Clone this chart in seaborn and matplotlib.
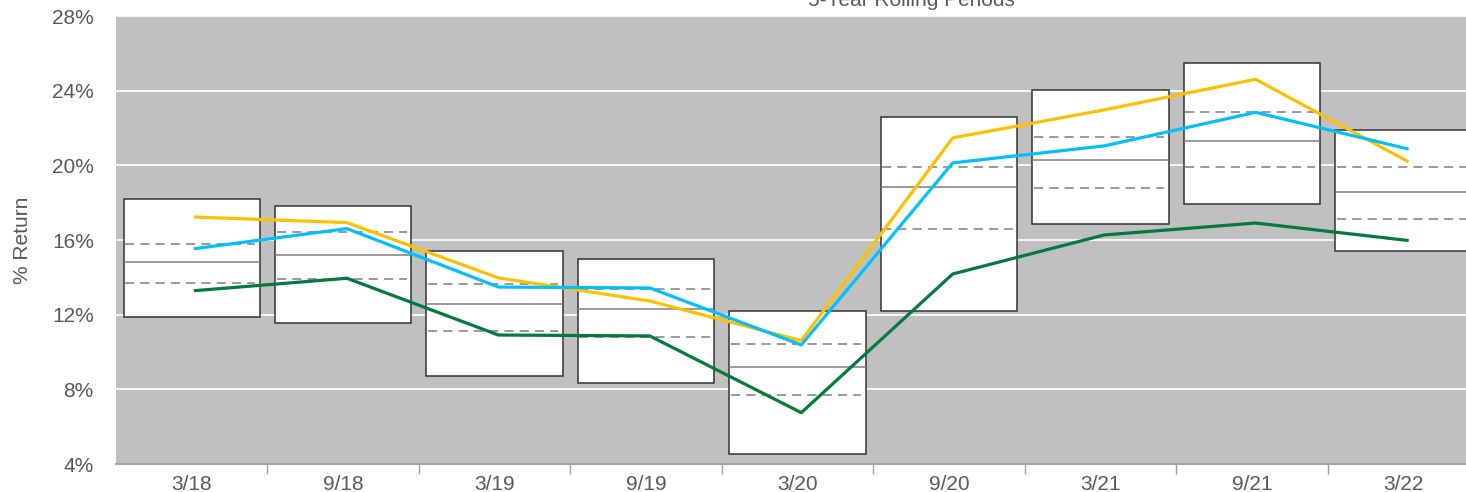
import numpy as np
import pandas as pd
import seaborn as sns
import matplotlib.pyplot as plt
from matplotlib.ticker import FixedLocator, FuncFormatter

periods = ['3/18', '9/18', '3/19', '9/19', '3/20', '9/20', '3/21', '9/21', '3/22']

# peer range boxes (% return)
box_high = [18.18, 17.84, 15.41, 14.98, 12.20, 22.59, 24.04, 25.46, 21.91]
box_q1 = [15.77, 16.41, 13.64, 13.38, 10.41, 19.91, 21.52, 22.84, 19.90]
box_median = [14.82, 15.22, 12.57, 12.31, 9.18, 18.84, 20.29, 21.32, 18.56]
box_q3 = [13.71, 13.90, 11.13, 10.81, 7.72, 16.59, 18.79, 19.93, 17.13]
box_low = [11.90, 11.54, 8.72, 8.34, 4.56, 12.20, 16.86, 17.91, 15.41]

# series lines
yellow = [17.23, 16.93, 13.97, 12.73, 10.61, 21.47, 22.97, 24.61, 20.23]
blue = [15.54, 16.61, 13.48, 13.43, 10.38, 20.13, 21.04, 22.84, 20.89]
green = [13.29, 13.95, 10.91, 10.86, 6.75, 14.18, 16.27, 16.91, 15.98]

series_names = ['Series 1', 'Series 2', 'Series 3']
colors = ['#FFC000', '#00BFFF', '#007A3D']

plt.rcParams['font.family'] = ['Liberation Sans', 'DejaVu Sans']
text_col = '#595959'

pos = np.arange(len(periods))
lines = pd.concat([
    pd.DataFrame({'pos': pos + 0.025, 'ret': vals, 'series': name})
    for name, vals in zip(series_names, [yellow, blue, green])
], ignore_index=True)

fig = plt.figure(figsize=(14.66, 4.92), dpi=100)
ax = fig.add_axes([116 / 1466, 28 / 492, 1363 / 1466, 448 / 492])
ax.set_facecolor('#C0C0C0')

w = 0.9
ax.bar(pos, np.array(box_high) - np.array(box_low), bottom=box_low, width=w,
       color='white', edgecolor='#333333', linewidth=1.1, zorder=2)
for i in pos:
    ax.hlines(box_median[i], i - w / 2, i + w / 2, color='#7f7f7f', lw=1.1, zorder=3)
    ax.hlines([box_q1[i], box_q3[i]], i - w / 2 + 0.01, i + w / 2 - 0.03,
              color='#7f7f7f', lw=1.1, linestyles=(0, (6, 4)), zorder=3)

sns.lineplot(data=lines, x='pos', y='ret', hue='series', palette=colors,
             linewidth=2.3, legend=False, ax=ax, zorder=4)

ax.set_xlim(-0.5, len(periods) - 0.5)
ax.set_ylim(4, 28)
ax.yaxis.set_major_locator(FixedLocator(np.arange(4, 29, 4)))
ax.yaxis.set_major_formatter(FuncFormatter(lambda v, p: f'{v:.0f}%'))
ax.grid(axis='y', color='white', lw=1.2, zorder=1)
ax.set_axisbelow(True)

ax.set_xticks(pos)
ax.set_xticklabels(periods)
ax.set_xticks(np.arange(0.5, len(periods) - 0.5, 1), minor=True)
ax.tick_params(axis='x', which='major', length=0, pad=8, labelsize=15, labelcolor=text_col)
ax.tick_params(axis='x', which='minor', length=7, width=1, color='#A0A0A0')
ax.tick_params(axis='y', length=0, pad=16, labelsize=15, labelcolor=text_col)

for s in ['top', 'right', 'left']:
    ax.spines[s].set_visible(False)
ax.spines['bottom'].set_color('#A6A6A6')
ax.spines['bottom'].set_linewidth(1.5)

ax.set_xlabel('')
ax.set_ylabel('% Return', fontsize=15, color=text_col, labelpad=14)

# title sits mostly above the top edge, as in the reference crop
fig.text(911 / 1466, 1 - 6 / 492, '5-Year Rolling Periods', ha='center', va='baseline',
         fontsize=15, color=text_col)

fig.savefig('out.png', dpi=100)
